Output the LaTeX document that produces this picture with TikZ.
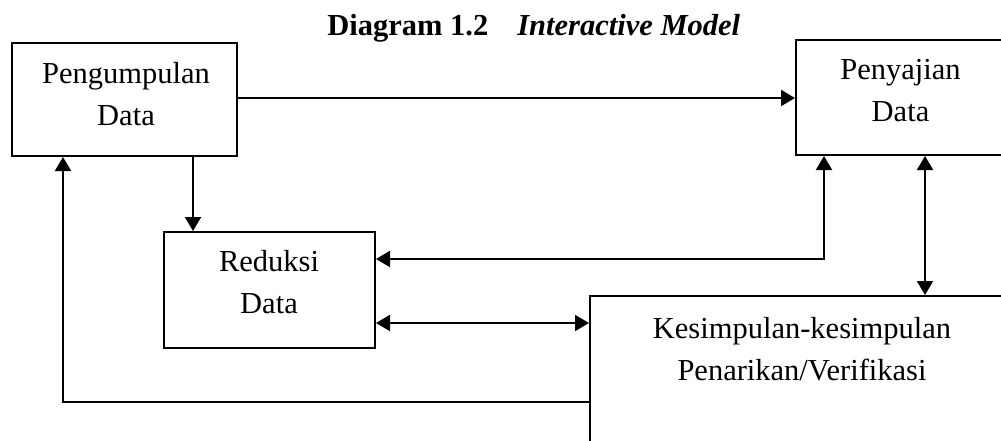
\documentclass[tikz,border=0pt]{standalone}
\usepackage{fontspec}
\setmainfont{Liberation Serif}
\usepackage{tikz}
\usetikzlibrary{calc,arrows.meta}

\tikzset{
  box/.style={draw, line width=1pt, inner sep=0pt},
  txt/.style={align=center, inner sep=0pt, font=\fontsize{15.25}{21}\selectfont},
  arr/.style={line width=1pt, -{Triangle[length=7pt,width=8pt]}},
  arrr/.style={line width=1pt, {Triangle[length=7pt,width=8pt]}-{Triangle[length=7pt,width=8pt]}}
}

\begin{document}
\begin{tikzpicture}[x=0.5pt,y=-0.5pt]
  \useasboundingbox (0,0) rectangle (1001,440);
  \clip (0,0) rectangle (1001,440);

% title
\node[txt, anchor=base west] (title) at (327,35)
  {\bfseries Diagram 1.2\hspace{14.5pt}\itshape Interactive Model};

% boxes
\node[box, minimum width=225pt*0.5, minimum height=113pt*0.5] (peng) at (124.5,99.5) {};
\node[box, minimum width=209pt*0.5, minimum height=115pt*0.5] (peny) at (900.5,97.5) {};
\node[box, minimum width=211pt*0.5, minimum height=116pt*0.5] (red) at (269.5,290) {};
\node[box, minimum width=424pt*0.5, minimum height=184pt*0.5] (kes) at (802,388) {};

\node[txt] (pengtxt) at (126,94.5) {Pengumpulan\\Data};
\node[txt] (penytxt) at (900.5,90.5) {Penyajian\\Data};
\node[txt] (redtxt) at (269,282.5) {Reduksi\\Data};
\node[txt] (kestxt) at (802,349) {Kesimpulan-kesimpulan\\Penarikan/Verifikasi};

% arrows
\draw[arr] ([yshift=0.75pt]peng.east) -- ([yshift=0.75pt]peng.east -| peny.west);
\draw[arr] ([xshift=15pt]red.north west |- peng.south) -- ([xshift=15pt]red.north west);
\draw[arr] ([yshift=-53.5pt]kes.north west) -| ([xshift=26pt]peng.south west);
\draw[arrr] ([yshift=-14pt]red.north east) -| ([xshift=14.5pt]peny.south west);
\draw[arrr] ([xshift=65pt]peny.south west) -- ([xshift=65pt]peny.south west |- kes.north);
\draw[arrr] ([yshift=13pt]red.south east) -- ([yshift=13pt]red.south east -| kes.west);

\end{tikzpicture}
\end{document}
